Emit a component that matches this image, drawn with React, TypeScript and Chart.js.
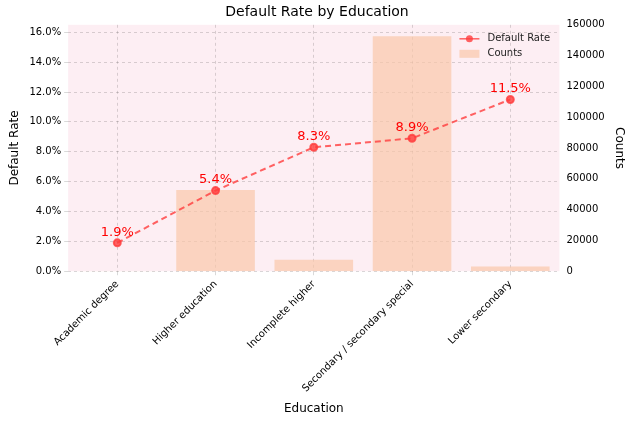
import React, { useEffect, useRef } from "react";
import { Chart, registerables } from "chart.js";

Chart.register(...registerables);

const categories = [
  "Academic degree",
  "Higher education",
  "Incomplete higher",
  "Secondary / secondary special",
  "Lower secondary",
];
const defaultRate = [1.9, 5.4, 8.3, 8.9, 11.5];
const counts = [164, 52700, 7400, 152500, 3100];

const FONT = "'DejaVu Sans', sans-serif";

const extras = {
  id: "extras",
  beforeDraw(chart: any) {
    const { ctx, chartArea: a } = chart;
    ctx.save();
    ctx.fillStyle = "#fdeef3";
    ctx.fillRect(a.left, a.top, a.right - a.left, a.bottom - a.top);
    ctx.restore();
  },
  afterDatasetsDraw(chart: any) {
    const { ctx, chartArea: a } = chart;
    const meta = chart.getDatasetMeta(1);
    ctx.save();
    ctx.font = `13px ${FONT}`;
    ctx.fillStyle = "red";
    ctx.textAlign = "center";
    ctx.textBaseline = "bottom";
    meta.data.forEach((p: any, i: number) => {
      ctx.fillText(defaultRate[i].toFixed(1) + "%", p.x, p.y - 4);
    });
    // legend
    const lx = a.right - 100;
    const ly = a.top + 14;
    ctx.font = `10px ${FONT}`;
    ctx.textAlign = "left";
    ctx.textBaseline = "middle";
    ctx.strokeStyle = "rgba(255,60,60,0.8)";
    ctx.lineWidth = 1.5;
    ctx.beginPath();
    ctx.moveTo(lx, ly);
    ctx.lineTo(lx + 20, ly);
    ctx.stroke();
    ctx.fillStyle = "rgba(255,60,60,0.8)";
    ctx.beginPath();
    ctx.arc(lx + 10, ly, 3.5, 0, Math.PI * 2);
    ctx.fill();
    ctx.fillStyle = "rgba(250,200,170,0.7)";
    ctx.fillRect(lx, ly + 11, 20, 8);
    ctx.fillStyle = "#222";
    ctx.fillText("Default Rate", lx + 28, ly);
    ctx.fillText("Counts", lx + 28, ly + 15);
    ctx.restore();
  },
};

export default function App() {
  const canvasRef = useRef<HTMLCanvasElement>(null);
  const chartRef = useRef<Chart | null>(null);

  useEffect(() => {
    if (!canvasRef.current) return;
    document.body.style.margin = "0";
    chartRef.current?.destroy();
    chartRef.current = new Chart(canvasRef.current, {
      type: "bar",
      data: {
        labels: categories,
        datasets: [
          {
            type: "bar",
            data: counts,
            yAxisID: "y1",
            backgroundColor: "rgba(250,200,170,0.7)",
            barPercentage: 0.8,
            categoryPercentage: 1,
            order: 2,
          },
          {
            type: "line",
            data: defaultRate,
            yAxisID: "y",
            borderColor: "rgba(255,60,60,0.8)",
            backgroundColor: "rgba(255,60,60,0.8)",
            borderDash: [6, 4],
            borderWidth: 2,
            pointRadius: 3.5,
            order: 1,
          },
        ] as any,
      },
      options: {
        responsive: false,
        animation: false,
        layout: { padding: { top: 0, right: 10, left: 4, bottom: 4 } },
        plugins: {
          legend: { display: false },
          tooltip: { enabled: false },
          title: {
            display: true,
            text: "Default Rate by Education",
            color: "#000",
            font: { family: FONT, size: 14, weight: "normal" },
            padding: { top: 4, bottom: 4 },
          },
        },
        scales: {
          x: {
            offset: true,
            grid: { color: "rgba(0,0,0,0.15)", tickLength: 4, offset: false },
            border: { display: false, dash: [3, 3] },
            ticks: {
              color: "#000",
              font: { family: FONT, size: 10 },
              maxRotation: 45,
              minRotation: 45,
            },
            title: {
              display: true,
              text: "Education",
              color: "#000",
              font: { family: FONT, size: 12 },
            },
          },
          y: {
            position: "left",
            min: 0,
            max: 16.5,
            afterBuildTicks: (s: any) => {
              s.ticks = [0, 2, 4, 6, 8, 10, 12, 14, 16].map((v) => ({ value: v }));
            },
            grid: { color: "rgba(0,0,0,0.15)", tickLength: 4 },
            border: { display: false, dash: [3, 3] },
            ticks: {
              color: "#000",
              font: { family: FONT, size: 10 },
              callback: (v: any) => Number(v).toFixed(1) + "%",
            },
            title: {
              display: true,
              text: "Default Rate",
              color: "#000",
              font: { family: FONT, size: 12 },
            },
          },
          y1: {
            position: "right",
            min: 0,
            max: 160000,
            grid: { display: false, tickLength: 4 },
            border: { display: false },
            ticks: {
              stepSize: 20000,
              color: "#000",
              font: { family: FONT, size: 10 },
              callback: (v: any) => String(v),
            },
            title: {
              display: true,
              text: "Counts",
              color: "#000",
              font: { family: FONT, size: 12 },
            },
          },
        },
      },
      plugins: [extras],
    });
    return () => {
      chartRef.current?.destroy();
    };
  }, []);

  return (
    <div>
      <canvas ref={canvasRef} width={640} height={424} style={{ display: "block" }} />
    </div>
  );
}
